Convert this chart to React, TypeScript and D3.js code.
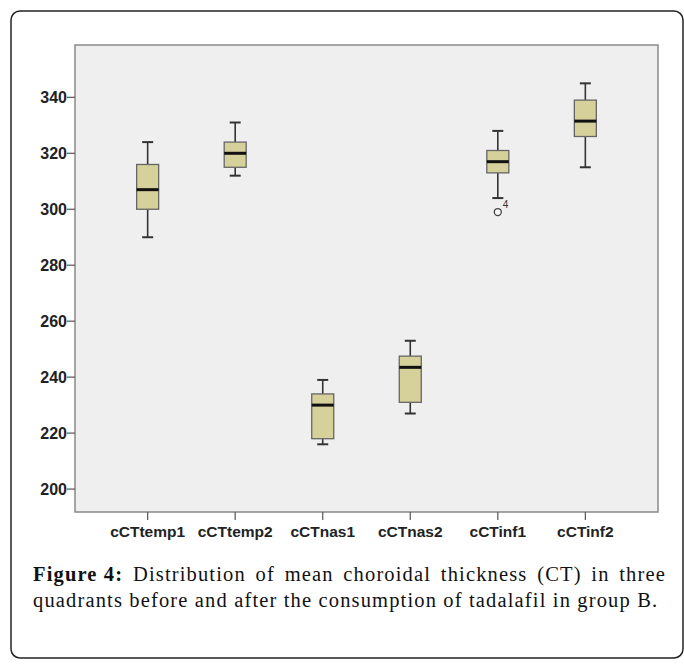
import React from "react";
import * as d3 from "d3";

const categories = ["cCTtemp1", "cCTtemp2", "cCTnas1", "cCTnas2", "cCTinf1", "cCTinf2"];
const whiskerLow = [290, 312, 216, 227, 304, 315];
const q1 = [300, 315, 218, 231, 313, 326];
const median = [307, 320, 230, 243.5, 317, 331.5];
const q3 = [316, 324, 234, 247.5, 321, 339];
const whiskerHigh = [324, 331, 239, 253, 328, 345];
const outlierCats = ["cCTinf1"];
const outlierValues = [299];
const outlierLabels = ["4"];
const yTicks = [200, 220, 240, 260, 280, 300, 320, 340];

const captionBold = "Figure 4:";
const captionLine1 = "Distribution of mean choroidal thickness (CT) in three";
const captionLine2 = "quadrants before and after the consumption of tadalafil in group B.";

const W = 684;
const H = 664;
const plot = { left: 75, right: 658, top: 45, bottom: 512 };

const capFont = "'Liberation Serif', 'Times New Roman', serif";
const capSize = 20.5;
const capLS = 1.15;

function measure(text: string, font: string): number {
  if (typeof document === "undefined") return text.length * 8;
  const c = document.createElement("canvas");
  const ctx = c.getContext("2d")!;
  ctx.font = font;
  return ctx.measureText(text).width + capLS * text.length;
}

export default function App() {
  const x = d3
    .scalePoint<string>()
    .domain(categories)
    .range([plot.left, plot.right])
    .padding(0.83);
  const y = d3.scaleLinear().domain([191.8, 358.7]).range([plot.bottom, plot.top]);

  const boxW = 22;
  const capW = 11;
  const fill = "#d6d09a";

  // justified caption line 1
  const capLeft = 33;
  const capRight = 666;
  const boldW = measure(captionBold, `bold ${capSize}px ${capFont}`);
  const words = captionLine1.split(" ");
  const wordWs = words.map((w) => measure(w, `${capSize}px ${capFont}`));
  const totalWords = boldW + wordWs.reduce((a, b) => a + b, 0);
  const gap = (capRight - capLeft - totalWords) / words.length;
  const positions: number[] = [];
  let cx = capLeft + boldW + gap;
  wordWs.forEach((w) => {
    positions.push(cx);
    cx += w + gap;
  });

  return (
    <svg width={W} height={H} style={{ position: "absolute", left: 0, top: 0 }}>
      <rect x={0} y={0} width={W} height={H} fill="#fff" />
      <rect x={11} y={11} width={672} height={647} rx={9} ry={9} fill="#fff" stroke="#222" strokeWidth={1.5} />
      {/* plot area */}
      <rect
        x={plot.left}
        y={plot.top}
        width={plot.right - plot.left}
        height={plot.bottom - plot.top}
        fill="#efefef"
        stroke="#8a8a8a"
        strokeWidth={1.5}
      />
      {/* y axis ticks */}
      {yTicks.map((t) => (
        <g key={t}>
          <line x1={plot.left - 8} x2={plot.left} y1={y(t)} y2={y(t)} stroke="#555" strokeWidth={1.2} />
          <text
            x={plot.left - 8}
            y={y(t)}
            dy="0.36em"
            textAnchor="end"
            fontFamily="'Liberation Sans', Arial, sans-serif"
            fontWeight="bold"
            fontSize={16}
            fill="#222"
          >
            {t}
          </text>
        </g>
      ))}
      {/* x axis ticks */}
      {categories.map((c) => (
        <g key={c}>
          <line x1={x(c)!} x2={x(c)!} y1={plot.bottom} y2={plot.bottom + 8} stroke="#555" strokeWidth={1.2} />
          <text
            x={x(c)!}
            y={537}
            textAnchor="middle"
            fontFamily="'Liberation Sans', Arial, sans-serif"
            fontWeight="bold"
            fontSize={15.5}
            fill="#222"
          >
            {c}
          </text>
        </g>
      ))}
      {/* boxes */}
      {categories.map((c, i) => {
        const cxp = x(c)!;
        return (
          <g key={c}>
            <line x1={cxp} x2={cxp} y1={y(whiskerHigh[i])} y2={y(q3[i])} stroke="#333" strokeWidth={1.6} />
            <line x1={cxp} x2={cxp} y1={y(q1[i])} y2={y(whiskerLow[i])} stroke="#333" strokeWidth={1.6} />
            <line
              x1={cxp - capW / 2}
              x2={cxp + capW / 2}
              y1={y(whiskerHigh[i])}
              y2={y(whiskerHigh[i])}
              stroke="#333"
              strokeWidth={2}
            />
            <line
              x1={cxp - capW / 2}
              x2={cxp + capW / 2}
              y1={y(whiskerLow[i])}
              y2={y(whiskerLow[i])}
              stroke="#333"
              strokeWidth={2}
            />
            <rect
              x={cxp - boxW / 2}
              y={y(q3[i])}
              width={boxW}
              height={y(q1[i]) - y(q3[i])}
              fill={fill}
              stroke="#666"
              strokeWidth={1.3}
            />
            <line
              x1={cxp - boxW / 2}
              x2={cxp + boxW / 2}
              y1={y(median[i])}
              y2={y(median[i])}
              stroke="#111"
              strokeWidth={3}
            />
          </g>
        );
      })}
      {/* outliers */}
      {outlierCats.map((c, i) => (
        <g key={c + i}>
          <circle cx={x(c)!} cy={y(outlierValues[i])} r={3.5} fill="#f5f5f5" stroke="#444" strokeWidth={1.3} />
          <text
            x={x(c)! + 5}
            y={y(outlierValues[i]) - 4}
            fontFamily="'Liberation Sans', Arial, sans-serif"
            fontSize={10}
            fill="#333"
          >
            {outlierLabels[i]}
          </text>
        </g>
      ))}
      {/* caption */}
      <text
        x={capLeft}
        y={581}
        fontFamily={capFont}
        fontSize={capSize}
        fontWeight="bold"
        letterSpacing={capLS}
        fill="#111"
      >
        {captionBold}
      </text>
      {words.map((w, i) => (
        <text
          key={i}
          x={positions[i]}
          y={581}
          fontFamily={capFont}
          fontSize={capSize}
          letterSpacing={capLS}
          fill="#111"
        >
          {w}
        </text>
      ))}
      <text x={capLeft} y={607} fontFamily={capFont} fontSize={capSize} letterSpacing={capLS} fill="#111">
        {captionLine2}
      </text>
    </svg>
  );
}
